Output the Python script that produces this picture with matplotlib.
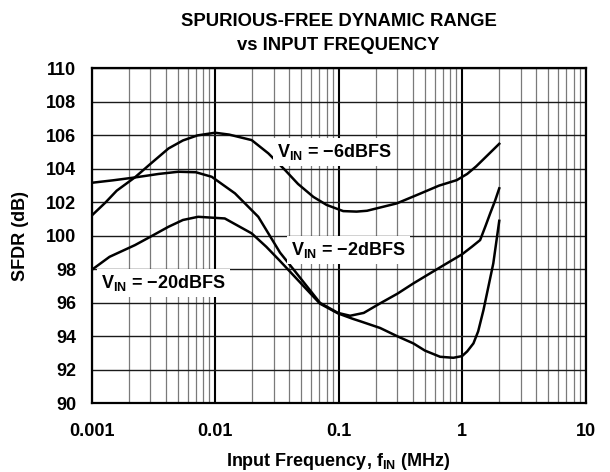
import numpy as np
import matplotlib
matplotlib.use("Agg")
import matplotlib.pyplot as plt
from matplotlib.ticker import FixedLocator, FixedFormatter, LogLocator, NullFormatter

plt.rcParams["font.family"] = ["Liberation Sans", "DejaVu Sans"]
plt.rcParams["font.weight"] = "bold"
plt.rcParams["mathtext.fontset"] = "custom"
plt.rcParams["mathtext.rm"] = "Liberation Sans:bold"
plt.rcParams["mathtext.bf"] = "Liberation Sans:bold"

# values (MHz, dB)
f_6dbfs = [0.001, 0.0013, 0.0016, 0.00225, 0.003, 0.0042, 0.0055, 0.0072, 0.01,
           0.013, 0.0198, 0.027, 0.0369, 0.047, 0.0625, 0.08, 0.109, 0.14, 0.17,
           0.296, 0.45, 0.65, 0.906, 1.1, 1.3, 1.6, 2.0]
sfdr_6dbfs = [101.2, 102.0, 102.7, 103.5, 104.3, 105.22, 105.7, 106.0, 106.16,
              106.05, 105.72, 104.93, 103.93, 103.1, 102.33, 101.85, 101.48, 101.45, 101.5,
              101.94, 102.5, 103.0, 103.33, 103.7, 104.15, 104.8, 105.5]

f_2dbfs = [0.001, 0.0015, 0.00225, 0.0035, 0.00505, 0.007, 0.0094, 0.0145, 0.0224,
           0.0336, 0.045, 0.0708, 0.099, 0.124, 0.16, 0.217, 0.3, 0.403, 0.55,
           0.752, 1.0, 1.2, 1.4, 1.55, 1.69, 1.85, 2.0]
sfdr_2dbfs = [103.17, 103.32, 103.49, 103.7, 103.83, 103.8, 103.53, 102.54, 101.14,
              99.0, 97.83, 96.0, 95.4, 95.23, 95.4, 95.97, 96.55, 97.16, 97.76,
              98.36, 98.9, 99.35, 99.75, 100.6, 101.35, 102.1, 102.84]

f_20dbfs = [0.001, 0.0014, 0.00225, 0.003, 0.00419, 0.0055, 0.0073, 0.012, 0.0198,
            0.026, 0.0336, 0.045, 0.0708, 0.099, 0.13, 0.15, 0.217, 0.3, 0.403,
            0.5, 0.664, 0.85, 1.0, 1.1, 1.236, 1.35, 1.49, 1.79, 2.0]
sfdr_20dbfs = [97.96, 98.75, 99.45, 99.95, 100.54, 100.95, 101.14, 101.04, 100.15,
               99.35, 98.5, 97.5, 95.95, 95.37, 95.05, 94.9, 94.5, 94.0, 93.58,
               93.15, 92.78, 92.72, 92.82, 93.1, 93.58, 94.3, 95.57, 98.36, 100.9]

x_ticks = [0.001, 0.01, 0.1, 1, 10]
x_tick_labels = ["0.001", "0.01", "0.1", "1", "10"]
y_ticks = list(range(90, 111, 2))

fig = plt.figure(figsize=(6.1, 4.72), dpi=100)
ax = fig.add_axes([0.150, 0.1455, 0.810, 0.7095])

ax.set_xscale("log")
ax.set_xlim(0.001, 10)
ax.set_ylim(90, 110)

# grid: thin gray minor verticals, black decade lines, dark horizontals
ax.xaxis.set_major_locator(FixedLocator(x_ticks))
ax.xaxis.set_major_formatter(FixedFormatter(x_tick_labels))
ax.xaxis.set_minor_locator(LogLocator(base=10, subs=np.arange(2, 10)))
ax.xaxis.set_minor_formatter(NullFormatter())
ax.yaxis.set_major_locator(FixedLocator(y_ticks))
ax.grid(True, which="minor", axis="x", color="#7a7a7a", linewidth=0.9)
ax.grid(True, which="major", axis="x", color="black", linewidth=1.5)
ax.grid(True, which="major", axis="y", color="#1a1a1a", linewidth=1.0)
ax.set_axisbelow(True)
ax.tick_params(which="both", length=0, labelsize=13)
ax.tick_params(axis="x", pad=14)
ax.tick_params(axis="y", pad=11)

for s in ax.spines.values():
    s.set_linewidth(1.6)

for f, v in [(f_6dbfs, sfdr_6dbfs), (f_2dbfs, sfdr_2dbfs), (f_20dbfs, sfdr_20dbfs)]:
    ax.plot(f, v, color="black", linewidth=1.8, solid_joinstyle="round")

box = dict(facecolor="white", edgecolor="none", pad=3)
ax.text(0.0318, 104.72, r"V$_{\mathrm{IN}}$ = −6dBFS", fontsize=13, va="baseline", ha="left", bbox=box)
ax.text(0.041, 98.85, r"V$_{\mathrm{IN}}$ = −2dBFS", fontsize=13, va="baseline", ha="left", bbox=box)
ax.text(0.00119, 96.87, r"V$_{\mathrm{IN}}$ = −20dBFS", fontsize=13, va="baseline", ha="left", bbox=box)

ax.set_xlabel(r"Input Frequency, f$_{\mathrm{IN}}$ (MHz)", fontsize=13, fontweight="bold", labelpad=8)
ax.set_ylabel("SFDR (dB)", fontsize=13, fontweight="bold", labelpad=12)

# two-line title centred over the plot area
cx = 0.150 + 0.810 / 2
fig.text(cx, 0.9449, "SPURIOUS-FREE DYNAMIC RANGE", fontsize=13.3, fontweight="bold",
         ha="center", va="baseline")
fig.text(cx, 0.894, "vs INPUT FREQUENCY", fontsize=13.3, fontweight="bold",
         ha="center", va="baseline")

fig.savefig("out.png", dpi=100)
